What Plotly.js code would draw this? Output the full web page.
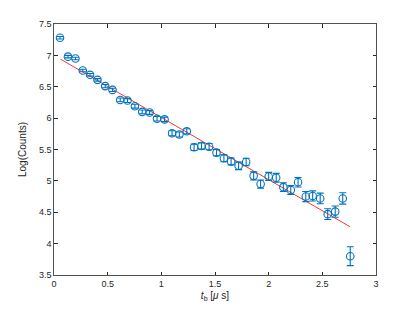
<!DOCTYPE html>
<html><head><meta charset="utf-8">
<script src="https://cdn.plot.ly/plotly-3.0.1.min.js"></script>
<style>html,body{margin:0;padding:0;background:#fff}#c{width:415px;height:312px}</style>
</head><body><div id="c"></div>
<script>
const tb = [0.056,0.13,0.2,0.268,0.336,0.405,0.477,0.545,0.617,0.685,0.754,0.822,0.891,0.96,1.03,1.10,1.168,1.237,1.305,1.374,1.445,1.514,1.583,1.65,1.72,1.79,1.86,1.925,2.0,2.07,2.137,2.206,2.274,2.346,2.41,2.48,2.55,2.62,2.69,2.76];
const logCounts = [7.28,6.98,6.95,6.76,6.69,6.61,6.51,6.45,6.29,6.28,6.19,6.10,6.09,5.99,5.98,5.76,5.74,5.79,5.535,5.556,5.545,5.45,5.36,5.31,5.24,5.30,5.08,4.95,5.07,5.05,4.90,4.855,4.977,4.75,4.76,4.72,4.47,4.51,4.72,3.80];
const errs = [0.02,0.02,0.02,0.02,0.02,0.02,0.025,0.025,0.03,0.03,0.03,0.03,0.03,0.035,0.035,0.04,0.04,0.04,0.05,0.05,0.05,0.05,0.055,0.055,0.06,0.06,0.065,0.065,0.065,0.07,0.07,0.07,0.075,0.08,0.08,0.085,0.085,0.09,0.09,0.15];
const fitX = [0.06, 2.757];
const fitY = [6.94, 4.27];
const xTicks = [0,0.5,1,1.5,2,2.5,3];
const yTicks = [3.5,4,4.5,5,5.5,6,6.5,7,7.5];

const blue = '#0072BD';
const data = [
  {x: fitX, y: fitY, type:'scatter', mode:'lines', line:{color:'#FF0000', width:0.8}, hoverinfo:'skip'},
  {x: tb, y: logCounts, type:'scatter', mode:'markers',
   marker:{symbol:'circle-open', size:7.5, color:blue, line:{width:1.1, color:blue}},
   error_y:{type:'data', array:errs, visible:true, color:blue, thickness:1.1, width:3.5}}
];
const axFont = {family:'Liberation Sans, Arial, sans-serif', size:9, color:'#262626'};
const layout = {
  width:415, height:312,
  margin:{l:54, r:39, t:24, b:37},
  paper_bgcolor:'#fff', plot_bgcolor:'#fff',
  showlegend:false,
  font: axFont,
  xaxis:{range:[0,3], tickvals:xTicks, ticktext:xTicks.map(String), ticks:'inside', ticklen:3.5, tickcolor:'#262626',
    showline:true, linecolor:'#262626', linewidth:0.8, mirror:'ticks', showgrid:false, zeroline:false,
    tickfont:axFont,
    title:{text:'<i>t</i><sub>b</sub> [<i>μ</i> s]', font:{family:'Liberation Sans, Arial, sans-serif', size:10, color:'#262626'}, standoff:4}},
  yaxis:{range:[3.5,7.5], tickvals:yTicks, ticktext:yTicks.map(String), ticks:'inside', ticklen:3.5, tickcolor:'#262626',
    showline:true, linecolor:'#262626', linewidth:0.8, mirror:'ticks', showgrid:false, zeroline:false,
    tickfont:axFont,
    title:{text:'Log(Counts)', font:{family:'Liberation Sans, Arial, sans-serif', size:10, color:'#262626'}, standoff:10}}
};
Plotly.newPlot('c', data, layout, {staticPlot:true, displayModeBar:false});
</script>
</body></html>
